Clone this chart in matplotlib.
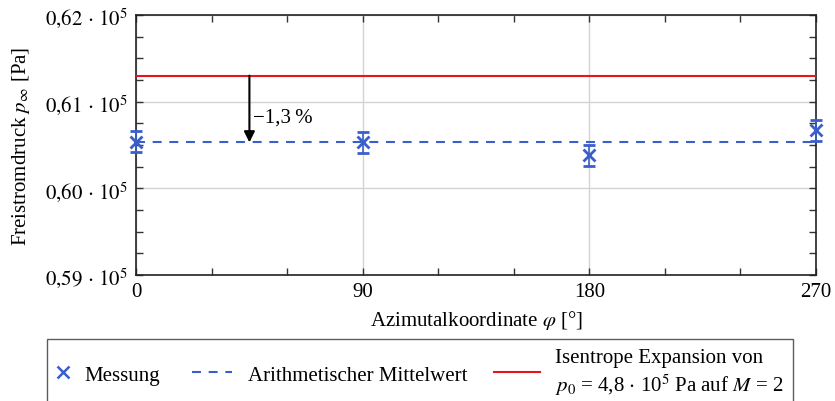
import matplotlib
matplotlib.use("Agg")
import matplotlib.pyplot as plt
from matplotlib.ticker import MultipleLocator, FuncFormatter
from matplotlib.lines import Line2D

plt.rcParams['font.family'] = ['Liberation Serif', 'DejaVu Serif']
plt.rcParams['mathtext.fontset'] = 'stix'
plt.rcParams['font.size'] = 15

# Messwerte am Umfang
phi = [0, 90, 180, 270]
p_mess = [0.6054e5, 0.6053e5, 0.6038e5, 0.6067e5]
p_err = [0.0012e5, 0.0012e5, 0.0012e5, 0.0012e5]

# Mittelwert und isentrope Referenz
p_mittel = sum(p_mess) / len(p_mess)
p_isentrop = 0.6130e5
phi_pfeil = 45

blau = '#3a5fcd'
rot = '#e8161b'
strich = (0, (4.3, 3.7))


class LinieLinks:
    """Legendensymbol, das von rechts aus nach links gezeichnet wird."""

    def __init__(self, laenge, **kw):
        self.laenge = laenge
        self.kw = kw

    def legend_artist(self, legend, orig_handle, fontsize, handlebox):
        x0, y0 = handlebox.xdescent, handlebox.ydescent
        w, h = handlebox.width, handlebox.height
        ln = Line2D([x0 + w - self.laenge, x0 + w], [y0 + h / 2] * 2,
                    transform=handlebox.get_transform(), **self.kw)
        handlebox.add_artist(ln)
        return ln


fig = plt.figure(figsize=(8.35, 4.02), dpi=100)
ax = fig.add_axes([0.163, 0.3134, 0.8142, 0.6468])

ax.axhline(p_isentrop, color=rot, lw=1.5, zorder=3)
ax.axhline(p_mittel, color=blau, lw=1.5, ls=strich, zorder=3)
ax.errorbar(phi, p_mess, yerr=p_err, fmt='x', color=blau, ms=8.5, mew=2,
            elinewidth=1.2, capsize=4.3, capthick=1.2, zorder=4, clip_on=False)

ax.annotate('', xy=(phi_pfeil, p_mittel), xytext=(phi_pfeil, p_isentrop),
            arrowprops=dict(arrowstyle='-|>', color='black', lw=1.5,
                            mutation_scale=16, shrinkA=0, shrinkB=0),
            zorder=5)
ax.text(phi_pfeil + 1.3, p_mittel + 0.38 * (p_isentrop - p_mittel),
        '\u22121,3\u2009%', ha='left', va='center', fontsize=15)

ax.set_xlim(0, 270)
ax.set_ylim(0.59e5, 0.62e5)
ax.xaxis.set_major_locator(MultipleLocator(90))
ax.xaxis.set_minor_locator(MultipleLocator(30))
ax.yaxis.set_major_locator(MultipleLocator(0.01e5))
ax.yaxis.set_minor_locator(MultipleLocator(0.0025e5))


def fmt_p(val, pos):
    s = f'{val / 1e5:.2f}'.replace('.', '{,}')
    return r'$' + s + r'\,\cdot\,10^5$'


ax.yaxis.set_major_formatter(FuncFormatter(fmt_p))
ax.tick_params(which='both', direction='in', top=True, right=True,
               labelsize=15, width=1.0, length=5, color='#333333')
ax.tick_params(axis='x', pad=5)
ax.tick_params(axis='y', pad=6)
ax.grid(True, which='major', color='#d3d3d3', lw=1.0)
ax.set_axisbelow(True)
for s in ax.spines.values():
    s.set_linewidth(1.2)
    s.set_color('#222222')

ax.set_xlabel(r'Azimutalkoordinate $\varphi$ [°]', fontsize=15, labelpad=5)
ax.set_ylabel(r'Freistromdruck $p_\infty$ [Pa]', fontsize=15, labelpad=9)

# Legende unter dem Diagramm
h_mess = Line2D([], [], ls='none', marker='x', color=blau, ms=8, mew=1.8)
h_mittel = Line2D([], [], color=blau, lw=1.5, ls=strich)
h_isen = Line2D([], [], color=rot, lw=1.5)
labels = [
    'Messung',
    'Arithmetischer Mittelwert',
    'Isentrope Expansion von\n' + r'$p_0$ = 4,8 $\cdot$ 10$^5$ Pa auf $M$ = 2',
]
leg = fig.legend(
    [h_mess, h_mittel, h_isen], labels, ncol=3, loc='upper left',
    bbox_to_anchor=(47 / 835, 1 - 340 / 402, 746 / 835, 0), mode='expand',
    borderaxespad=0, frameon=True, fancybox=False, edgecolor='#333333',
    fontsize=15, handlelength=0.6, handletextpad=0.75, columnspacing=2.0,
    borderpad=0.45, labelspacing=0.2,
    handler_map={
        h_mittel: LinieLinks(29, color=blau, lw=1.5, ls=strich),
        h_isen: LinieLinks(33, color=rot, lw=1.5),
    })
leg.get_frame().set_linewidth(1.0)

fig.savefig('out.png', dpi=100)
